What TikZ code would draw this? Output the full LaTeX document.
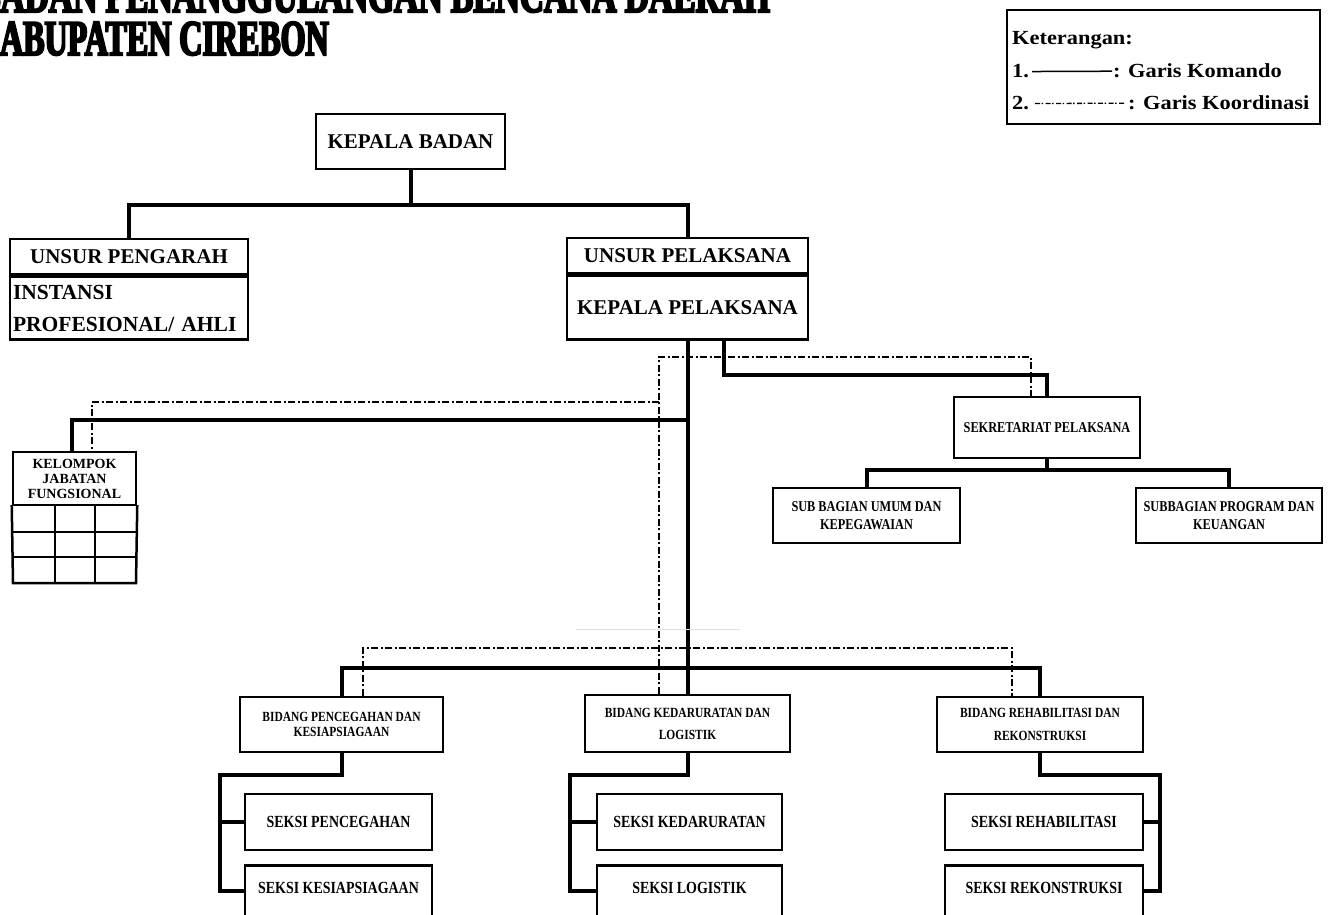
\documentclass[tikz,border=0pt]{standalone}
\usepackage{fontspec}
\setmainfont{Liberation Serif}
\newfontfamily\condf{Liberation Serif}[FakeStretch=0.82]
\newfontfamily\widef{Liberation Serif}[FakeStretch=1.12]
\newfontfamily\titlef{Liberation Serif}[FakeStretch=0.64,FakeBold=4]
\newfontfamily\titlefw{Liberation Serif}[FakeStretch=0.67,FakeBold=4]
\begin{document}
\begin{tikzpicture}[x=1pt,y=-1pt,
  obox/.style={draw, line width=2.5pt, inner sep=0pt, align=center},
  big/.style={font=\fontsize{21}{24}\selectfont\bfseries},
  mid/.style={font=\condf\fontsize{15}{18}\selectfont\bfseries},
  seksi/.style={font=\condf\fontsize{17}{20}\selectfont\bfseries},
  legtext/.style={anchor=base west, inner sep=0pt, font=\widef\fontsize{20}{24}\selectfont\bfseries},
  titletext/.style={anchor=base west, inner sep=0pt},
  komando/.style={line width=4pt, line join=miter},
  koor/.style={line width=2pt, dash pattern=on 7pt off 2.5pt on 2pt off 2.5pt},
]
\useasboundingbox (0,0) rectangle (1334,915);

% title
\node[titletext, font=\titlefw\fontsize{50}{50}\selectfont\bfseries] (t1) at (-22,12) {BADAN PENANGGULANGAN BENCANA DAERAH};
\node[titletext, font=\titlef\fontsize{50}{50}\selectfont\bfseries] (t2) at (-25,55) {KABUPATEN CIREBON};

% legend
\node[draw, line width=2.5pt, minimum width=313, minimum height=114, inner sep=0pt] (leg) at (1163.5,67) {};
\node[legtext] (lk) at (1012,45) {Keterangan:};
\node[legtext] (l1) at (1012,78) {1.};
\node[legtext] (l1t) at (1113,78) {: Garis Komando};
\node[legtext] (l2) at (1012,110) {2.};
\node[legtext] (l2t) at (1128,110) {: Garis Koordinasi};
\draw[line width=1.5pt] ([xshift=3pt]l1.east) -- ([xshift=-1pt]l1t.west);
\draw[line width=1.3pt, dash pattern=on 5pt off 1.5pt on 1.5pt off 2.5pt] ([xshift=6pt]l2.east) -- ([xshift=-3pt]l2t.west);

% top level
\node[obox, big, minimum width=189, minimum height=55] (kb) at (410.5,141.5) {KEPALA BADAN};
\node[obox, big, minimum width=238, minimum height=35] (upH) at (129,256.5) {UNSUR PENGARAH};
\node[obox, minimum width=238, minimum height=63, align=left, text width=232pt, inner xsep=3pt,
      font=\fontsize{21.5}{32}\selectfont\bfseries, anchor=north] (upB) at (upH.south) {INSTANSI\\PROFESIONAL/ AHLI};
\node[obox, big, minimum width=241, minimum height=35] (plH) at (687.5,255.5) {UNSUR PELAKSANA};
\node[obox, big, minimum width=241, minimum height=64, anchor=north] (plB) at (plH.south) {KEPALA PELAKSANA};

% kelompok jabatan fungsional
\node[obox, minimum width=123, minimum height=53, font=\fontsize{14}{15}\selectfont\bfseries] (kjf) at (74.5,478.5) {KELOMPOK\\JABATAN\\FUNGSIONAL};
\draw[line width=2.5pt, line cap=rect] (kjf.south west) -- (13,583) -- (136,583) -- (kjf.south east);
\draw[line width=1.5pt] (13,532) -- (136,532) (13,557) -- (136,557) (55,505) -- (55,583) (95,505) -- (95,583);

% sekretariat
\node[obox, mid, minimum width=186, minimum height=61] (sek) at (1047,427.5) {SEKRETARIAT PELAKSANA};
\node[obox, mid, minimum width=187, minimum height=55] (sbu) at (866.5,515.5) {SUB BAGIAN UMUM DAN\\KEPEGAWAIAN};
\node[obox, mid, minimum width=186, minimum height=55] (sbp) at (1229,515.5) {SUBBAGIAN PROGRAM DAN\\KEUANGAN};

% bidang
\node[obox, minimum width=203, minimum height=55, font=\condf\fontsize{14}{15}\selectfont\bfseries] (bp) at (341.5,724.5) {BIDANG PENCEGAHAN DAN\\KESIAPSIAGAAN};
\node[obox, minimum width=205, minimum height=57, font=\condf\fontsize{14}{22}\selectfont\bfseries] (bk) at (687.5,723.5) {BIDANG KEDARURATAN DAN\\LOGISTIK};
\node[obox, minimum width=206, minimum height=55, font=\condf\fontsize{14}{23}\selectfont\bfseries] (br) at (1040,724.5) {BIDANG REHABILITASI DAN\\REKONSTRUKSI};

% seksi
\node[obox, seksi, minimum width=187, minimum height=56] (sp1) at (338.5,822) {SEKSI PENCEGAHAN};
\node[obox, seksi, minimum width=187, text height=28pt, text depth=45pt, anchor=north] (sp2) at (338.5,864) {SEKSI KESIAPSIAGAAN};
\node[obox, seksi, minimum width=185, minimum height=56] (sk1) at (689.5,822) {SEKSI KEDARURATAN};
\node[obox, seksi, minimum width=185, text height=28pt, text depth=45pt, anchor=north] (sk2) at (689.5,864) {SEKSI LOGISTIK};
\node[obox, seksi, minimum width=198, minimum height=56] (sr1) at (1044,822) {SEKSI REHABILITASI};
\node[obox, seksi, minimum width=198, text height=28pt, text depth=45pt, anchor=north] (sr2) at (1044,864) {SEKSI REKONSTRUKSI};

% garis komando
\draw[komando] (kb.south) -- (kb.south |- 0,205);
\draw[komando] (upH.north) -- (upH.north |- 0,205) -- (plH.north |- 0,205) -- (plH.north);
\draw[komando] (plB.south) -- (bk.north);
\draw[komando] (plB.south -| 724,0) |- (sek.north |- 0,375) -- (sek.north);
\draw[komando] (plB.south |- 0,420) -| (kjf.north -| 72,0);
\draw[komando] (sek.south) -- (sek.south |- 0,470);
\draw[komando] (sbu.north) |- (sbp.north |- 0,470) -- (sbp.north);
\draw[komando] (bp.north) |- (br.north |- 0,668) -- (br.north);
\draw[komando] (bp.south) -- (bp.south |- 0,775) -| (sp2.mid west -| 220,0) -- (sp2.mid west);
\draw[komando] (sp1.west -| 220,0) -- (sp1.west);
\draw[komando] (bk.south) -- (bk.south |- 0,775) -| (sk2.mid west -| 570,0) -- (sk2.mid west);
\draw[komando] (sk1.west -| 570,0) -- (sk1.west);
\draw[komando] (br.south) -- (br.south |- 0,775) -| (sr2.mid east -| 1160,0) -- (sr2.mid east);
\draw[komando] (sr1.east -| 1160,0) -- (sr1.east);

% garis koordinasi
\draw[koor] (bk.north -| 659,0) -- (659,357) -| (sek.north -| 1031,0);
\draw[koor] (659,402) -| (kjf.north -| 92,0);
\draw[koor] (bp.north -| 363,0) |- (1012,648) -- (br.north -| 1012,0);

% faint trace
\draw[gray!25, line width=1pt] (576,629) -- (740,629);
\end{tikzpicture}
\end{document}
